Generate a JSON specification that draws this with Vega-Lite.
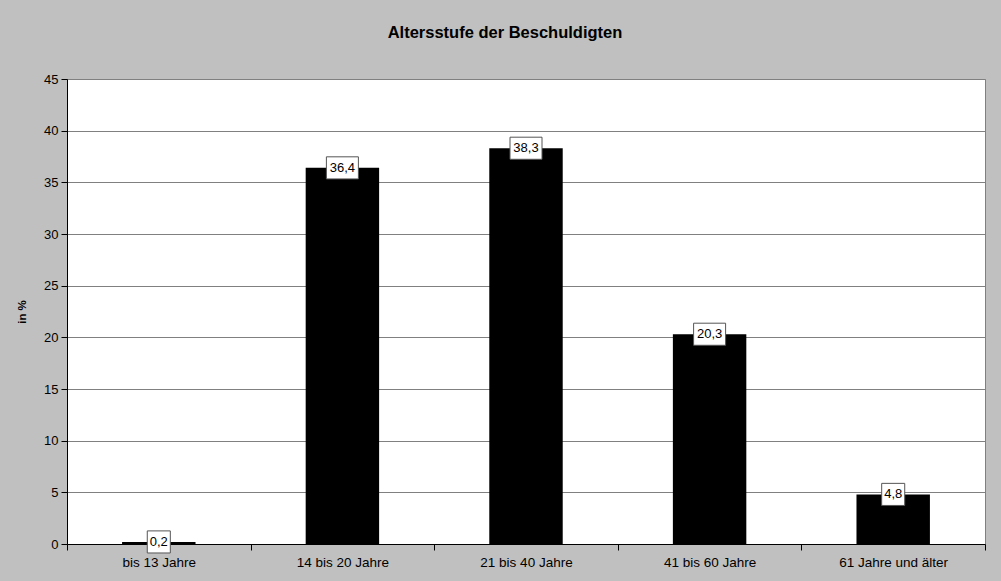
{
  "$schema": "https://vega.github.io/schema/vega-lite/v6.json",
  "width": 918,
  "height": 465,
  "autosize": {"type": "none"},
  "padding": {"left": 67, "top": 79, "right": 16, "bottom": 37},
  "background": "#C0C0C0",
  "config": {
    "font": "Liberation Sans",
    "locale": {"number": {"decimal": ",", "thousands": ".", "grouping": [3], "currency": ["", " €"]}},
    "view": {"fill": "white", "stroke": "#808080", "strokeWidth": 1}
  },
  "title": {
    "text": "Altersstufe der Beschuldigten",
    "font": "Liberation Sans",
    "fontSize": 16.5,
    "fontWeight": "bold",
    "color": "black",
    "anchor": "middle",
    "dx": -21,
    "offset": 32
  },
  "data": {
    "values": [
      {"age": "bis 13 Jahre", "value": 0.2},
      {"age": "14 bis 20 Jahre", "value": 36.4},
      {"age": "21 bis 40 Jahre", "value": 38.3},
      {"age": "41 bis 60 Jahre", "value": 20.3},
      {"age": "61 Jahre und älter", "value": 4.8}
    ]
  },
  "encoding": {
    "x": {
      "field": "age",
      "type": "nominal",
      "sort": null,
      "scale": {"paddingInner": 0, "paddingOuter": 0},
      "axis": {
        "title": null,
        "labelAngle": 0,
        "labelFont": "Liberation Sans",
        "labelFontSize": 13.5,
        "labelColor": "black",
        "labelPadding": 5,
        "domainColor": "black",
        "domainWidth": 1,
        "tickColor": "black",
        "tickSize": 6,
        "tickBand": "extent",
        "grid": false
      }
    },
    "y": {
      "field": "value",
      "type": "quantitative",
      "scale": {"domain": [0, 45], "nice": false},
      "axis": {
        "title": "in %",
        "titleFont": "Liberation Sans",
        "titleFontSize": 11.5,
        "titleFontWeight": "bold",
        "titleColor": "black",
        "titlePadding": 16,
        "values": [0, 5, 10, 15, 20, 25, 30, 35, 40, 45],
        "format": "d",
        "labelFont": "Liberation Sans",
        "labelFontSize": 13,
        "labelColor": "black",
        "labelPadding": 3,
        "domainColor": "black",
        "domainWidth": 1,
        "tickColor": "black",
        "tickSize": 6,
        "gridColor": "#808080",
        "gridWidth": 1,
        "gridOpacity": 1
      }
    }
  },
  "layer": [
    {"mark": {"type": "bar", "color": "black", "width": {"band": 0.4}}},
    {
      "mark": {"type": "point", "filled": true, "fill": "white", "stroke": "#555555", "strokeWidth": 1, "opacity": 1, "size": 1024},
      "encoding": {
        "shape": {
          "condition": {"test": "datum.value < 10", "value": "M-0.72,-0.69H0.72V0.69H-0.72Z"},
          "value": "M-1,-0.69H1V0.69H-1Z"
        }
      }
    },
    {
      "mark": {"type": "text", "font": "Liberation Sans", "fontSize": 13, "color": "black", "baseline": "middle", "align": "center"},
      "encoding": {"text": {"field": "value", "type": "quantitative", "format": ".1f"}}
    }
  ]
}
